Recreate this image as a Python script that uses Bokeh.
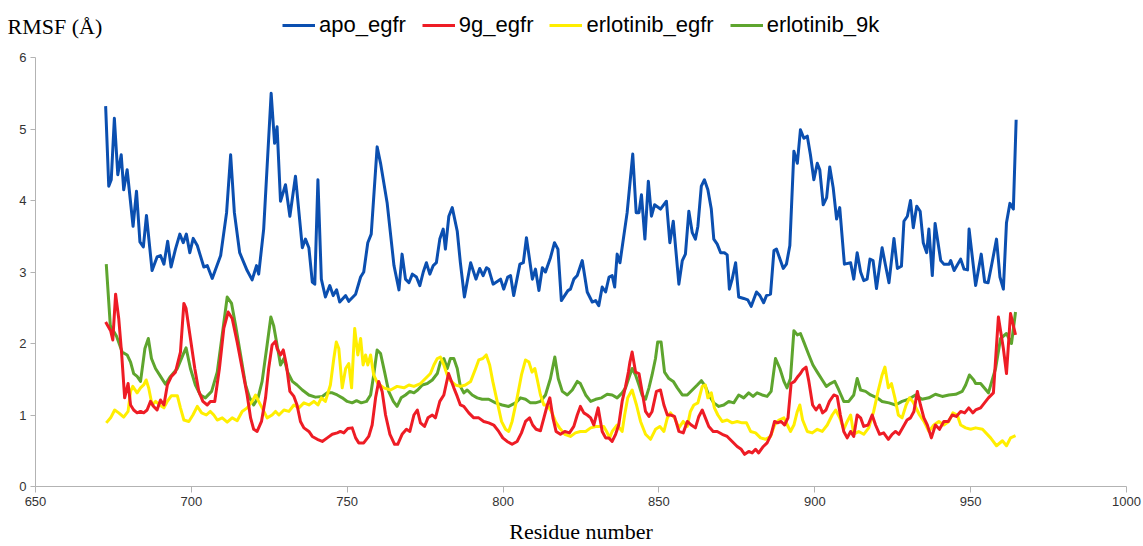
from bokeh.plotting import figure
from bokeh.models import Legend, LegendItem, Label, FixedTicker
from bokeh.layouts import column
from bokeh.embed import file_html
from bokeh.resources import INLINE

# (residue, RMSF in Angstrom)
apo_egfr = [
    (672.5, 5.32), (673.5, 4.2), (674.3, 4.29), (675.3, 5.15), (676.4, 4.36), (677.5, 4.64),
    (678.3, 4.15), (679.4, 4.43), (681.3, 3.64), (682.4, 4.13), (683.5, 3.42), (684.6, 3.35),
    (685.6, 3.79), (687.4, 3.02), (689.0, 3.21), (690.1, 3.23), (691.2, 3.11), (692.4, 3.43),
    (693.5, 3.07), (694.9, 3.32), (696.3, 3.53), (697.4, 3.41), (698.4, 3.53), (699.5, 3.27),
    (700.6, 3.47), (701.9, 3.37), (704.0, 3.07), (705.1, 3.09), (706.7, 2.91), (709.4, 3.23),
    (711.3, 3.83), (712.6, 4.64), (713.8, 3.83), (715.5, 3.27), (717.9, 3.02), (719.5, 2.89),
    (720.9, 3.09), (721.6, 2.97), (723.2, 3.6), (725.6, 5.5), (726.7, 4.8), (727.5, 5.03),
    (728.6, 3.99), (730.2, 4.22), (731.6, 3.78), (733.4, 4.34), (735.6, 3.34), (736.6, 3.46),
    (737.7, 3.34), (738.8, 2.86), (739.6, 2.83), (740.6, 4.29), (741.7, 2.9), (743.0, 2.65),
    (744.4, 2.81), (745.5, 2.67), (746.6, 2.75), (747.6, 2.58), (749.5, 2.67), (750.5, 2.59),
    (752.7, 2.69), (754.3, 2.93), (755.3, 3.0), (756.6, 3.41), (757.7, 3.53), (759.6, 4.75),
    (760.7, 4.52), (762.8, 3.97), (765.0, 3.09), (766.6, 2.75), (767.6, 3.25), (768.7, 2.9),
    (769.8, 2.85), (770.9, 2.97), (772.2, 2.93), (773.3, 2.81), (774.4, 3.0), (775.4, 3.13),
    (776.5, 2.97), (777.6, 3.09), (778.6, 3.13), (779.7, 3.46), (780.8, 3.6), (781.5, 3.32),
    (782.6, 3.78), (783.7, 3.9), (785.3, 3.57), (786.3, 3.13), (787.6, 2.65), (789.6, 3.13),
    (791.3, 2.9), (792.5, 3.05), (793.6, 2.95), (794.7, 3.06), (795.4, 3.04), (796.8, 2.83),
    (799.2, 2.9), (800.2, 2.76), (801.5, 2.93), (802.4, 2.95), (803.4, 2.67), (805.4, 3.11),
    (806.5, 3.13), (807.5, 3.48), (809.4, 2.9), (810.4, 3.04), (811.5, 2.74), (812.6, 3.06),
    (813.6, 3.0), (815.2, 3.2), (816.5, 3.41), (817.6, 3.32), (818.7, 2.6), (820.8, 2.74),
    (821.6, 2.76), (822.7, 2.9), (823.8, 2.95), (825.4, 3.16), (827.0, 2.72), (828.6, 2.58),
    (829.7, 2.6), (830.7, 2.53), (831.8, 2.79), (832.9, 2.72), (834.0, 2.93), (835.0, 2.95),
    (835.8, 2.79), (836.6, 3.25), (837.5, 3.13), (839.8, 3.83), (841.6, 4.65), (842.7, 3.83),
    (843.6, 3.83), (844.4, 4.08), (845.5, 3.46), (846.6, 4.27), (847.6, 3.78), (848.6, 3.94),
    (850.5, 3.88), (852.4, 3.99), (853.5, 3.41), (854.6, 3.71), (856.4, 2.83), (857.5, 3.16),
    (858.5, 3.25), (859.6, 3.85), (860.7, 3.55), (861.7, 3.46), (862.5, 3.64), (863.6, 4.2),
    (864.6, 4.29), (865.7, 4.15), (866.8, 3.88), (867.6, 3.46), (868.7, 3.39), (869.8, 3.27),
    (871.0, 3.27), (871.9, 3.24), (872.6, 2.76), (873.5, 2.9), (874.6, 3.13), (875.6, 2.65),
    (877.2, 2.63), (878.5, 2.61), (879.6, 2.52), (881.3, 2.72), (882.4, 2.67), (883.6, 2.57),
    (884.5, 2.67), (885.8, 2.69), (886.9, 3.3), (887.7, 3.32), (889.9, 3.05), (890.9, 3.11),
    (892.0, 3.37), (893.3, 4.69), (894.4, 4.52), (895.4, 4.99), (896.5, 4.87), (897.6, 4.9),
    (898.6, 4.64), (899.7, 4.29), (900.8, 4.52), (901.6, 4.43), (902.7, 3.94), (903.8, 4.04),
    (904.8, 4.47), (905.9, 4.18), (907.0, 3.74), (908.0, 3.9), (909.5, 3.11), (911.5, 3.13),
    (912.5, 2.9), (913.6, 3.27), (914.7, 3.0), (915.7, 2.88), (916.8, 2.9), (917.7, 3.18),
    (918.7, 3.16), (919.8, 2.77), (921.6, 3.34), (922.7, 3.09), (923.8, 2.85), (925.4, 3.47),
    (926.5, 3.05), (927.8, 3.08), (928.6, 3.71), (929.7, 3.78), (930.7, 4.0), (931.6, 3.62),
    (932.7, 3.92), (933.8, 3.85), (934.8, 3.41), (935.9, 3.27), (936.6, 3.6), (937.7, 2.95),
    (938.6, 3.68), (940.4, 3.16), (941.4, 3.11), (943.1, 3.11), (943.6, 3.16), (944.7, 3.02),
    (946.8, 3.18), (947.9, 3.04), (949.0, 3.03), (949.5, 3.6), (951.6, 2.81), (953.4, 3.25),
    (954.5, 2.86), (955.6, 2.85), (956.7, 3.09), (958.3, 3.46), (959.4, 2.93), (960.5, 2.76),
    (961.5, 3.69), (962.6, 3.96), (963.7, 3.88), (964.6, 5.13),
]

g9_egfr = [
    (672.5, 2.3), (674.1, 2.18), (674.8, 2.05), (675.7, 2.69), (676.7, 2.35), (677.6, 1.88),
    (678.6, 1.24), (679.7, 1.44), (680.5, 1.14), (681.5, 1.07), (682.6, 1.03), (683.7, 1.05),
    (684.7, 1.03), (685.8, 1.07), (686.9, 1.19), (687.9, 1.12), (689.0, 1.07), (690.1, 1.21),
    (691.2, 1.14), (692.3, 1.42), (693.6, 1.54), (694.9, 1.6), (696.5, 1.88), (697.6, 2.56),
    (698.3, 2.49), (699.7, 2.07), (701.1, 1.65), (702.4, 1.33), (703.7, 1.19), (705.1, 1.14),
    (706.1, 1.19), (707.5, 1.19), (709.0, 1.65), (710.4, 2.21), (711.8, 2.44), (713.1, 2.35),
    (714.7, 2.02), (716.3, 1.65), (717.9, 1.28), (719.0, 0.96), (720.0, 0.8), (721.1, 0.77),
    (722.5, 0.91), (723.8, 1.24), (724.8, 1.65), (725.9, 1.98), (727.0, 2.03), (727.5, 1.93),
    (728.6, 1.84), (729.5, 1.91), (730.5, 1.7), (731.6, 1.33), (732.9, 1.26), (733.9, 1.14),
    (735.0, 0.91), (736.1, 0.82), (737.7, 0.77), (738.8, 0.7), (740.4, 0.66), (742.0, 0.63),
    (743.6, 0.68), (745.2, 0.73), (746.8, 0.75), (747.8, 0.77), (748.9, 0.75), (750.2, 0.81),
    (751.6, 0.82), (752.7, 0.68), (753.7, 0.61), (755.3, 0.61), (756.9, 0.7), (758.0, 0.86),
    (759.1, 1.24), (760.1, 1.47), (761.2, 1.33), (762.3, 1.0), (763.7, 0.73), (765.2, 0.59),
    (766.2, 0.59), (767.6, 0.73), (769.0, 0.8), (770.1, 0.77), (771.4, 1.0), (772.5, 1.07),
    (773.5, 0.89), (774.8, 0.84), (775.9, 0.96), (777.3, 1.0), (778.3, 0.96), (779.7, 1.19),
    (781.0, 1.28), (782.5, 1.58), (784.2, 1.38), (785.3, 1.26), (786.3, 1.14), (787.4, 1.12),
    (789.0, 1.03), (790.6, 0.96), (792.2, 0.96), (793.8, 0.91), (795.4, 0.89), (797.0, 0.86),
    (798.6, 0.77), (799.9, 0.68), (801.3, 0.63), (802.9, 0.59), (804.5, 0.63), (805.9, 0.75),
    (807.2, 0.91), (808.5, 0.96), (809.5, 0.86), (810.6, 0.8), (812.0, 0.78), (813.1, 0.96),
    (814.2, 1.14), (815.0, 1.24), (816.0, 0.96), (817.0, 0.77), (818.4, 0.73), (819.8, 0.77),
    (821.3, 0.75), (822.7, 0.84), (823.8, 1.0), (824.8, 1.12), (825.9, 1.03), (827.0, 1.0),
    (828.1, 0.96), (829.1, 0.86), (830.5, 1.1), (831.8, 0.77), (832.9, 0.68), (833.9, 0.68),
    (835.0, 0.63), (836.1, 0.73), (837.1, 0.86), (838.2, 1.19), (839.3, 1.4), (840.2, 1.6),
    (840.7, 1.74), (841.4, 1.88), (842.5, 1.6), (843.6, 1.58), (844.6, 1.33), (845.7, 1.05),
    (846.8, 0.98), (847.8, 1.05), (849.2, 1.33), (850.5, 1.35), (851.6, 1.14), (852.7, 1.0),
    (853.7, 1.0), (855.0, 0.98), (856.4, 0.77), (857.8, 0.75), (859.1, 0.91), (860.4, 0.86),
    (861.7, 0.82), (862.8, 0.98), (863.9, 1.07), (864.9, 0.96), (866.0, 0.84), (867.4, 0.77),
    (868.7, 0.77), (870.3, 0.73), (871.9, 0.7), (873.5, 0.63), (875.1, 0.56), (876.4, 0.52),
    (877.5, 0.45), (878.8, 0.49), (879.9, 0.47), (881.0, 0.52), (882.0, 0.47), (883.5, 0.56),
    (884.7, 0.61), (886.0, 0.73), (887.1, 0.91), (888.1, 0.89), (889.2, 0.91), (890.3, 0.86),
    (891.4, 0.96), (892.4, 1.44), (893.5, 1.47), (894.6, 1.54), (895.4, 1.58), (896.1, 1.63),
    (897.2, 1.67), (898.1, 1.47), (899.3, 1.14), (900.4, 1.07), (901.5, 1.14), (902.5, 1.03),
    (903.6, 1.07), (904.7, 1.19), (906.1, 1.28), (907.2, 1.26), (908.2, 1.0), (909.3, 0.77),
    (910.4, 0.68), (911.5, 0.77), (912.5, 0.7), (913.6, 1.0), (914.7, 0.96), (915.7, 0.84),
    (917.1, 0.86), (918.4, 1.0), (919.5, 0.86), (920.8, 0.73), (922.1, 0.75), (923.6, 0.66),
    (924.8, 0.73), (925.9, 0.77), (927.0, 0.73), (928.2, 0.82), (929.6, 0.93), (930.7, 0.96),
    (931.8, 1.05), (932.9, 1.33), (933.9, 1.14), (935.0, 0.96), (936.1, 0.86), (937.4, 0.68),
    (938.7, 0.86), (940.0, 0.8), (941.4, 0.91), (942.8, 0.91), (944.1, 1.0), (945.4, 0.98),
    (946.8, 1.05), (948.1, 1.03), (949.4, 1.1), (950.7, 1.03), (951.6, 1.07), (953.2, 1.1),
    (955.7, 1.24), (957.3, 1.31), (958.9, 2.37), (960.5, 1.93), (961.5, 1.58), (962.8, 2.42),
    (964.4, 2.12),
]

erlotinib_egfr = [
    (672.7, 0.89), (674.1, 0.96), (675.4, 1.07), (676.7, 1.03), (678.3, 0.97), (679.7, 1.05),
    (680.5, 1.33), (681.2, 1.4), (682.6, 1.31), (683.7, 1.38), (684.7, 1.42), (685.5, 1.49),
    (686.3, 1.38), (687.4, 1.14), (688.5, 1.19), (689.8, 1.14), (691.2, 1.1), (692.3, 1.19),
    (693.6, 1.27), (695.5, 1.27), (696.5, 1.1), (697.6, 0.93), (699.2, 0.91), (700.5, 1.0),
    (701.9, 1.12), (703.3, 1.03), (704.8, 1.0), (706.1, 1.05), (707.2, 1.0), (708.3, 0.93),
    (709.9, 0.96), (711.5, 0.9), (713.1, 0.96), (714.7, 0.92), (716.3, 1.05), (717.9, 1.1),
    (719.5, 1.19), (720.6, 1.28), (721.6, 1.19), (722.7, 1.1), (724.3, 0.96), (725.9, 1.0),
    (727.0, 1.05), (728.1, 1.0), (729.7, 1.07), (731.3, 1.05), (732.9, 1.14), (734.5, 1.1),
    (736.1, 1.17), (737.7, 1.14), (739.3, 1.19), (740.6, 1.14), (741.7, 1.24), (743.0, 1.19),
    (744.6, 1.42), (745.7, 1.79), (746.5, 2.02), (747.3, 1.93), (748.4, 1.38), (749.5, 1.65),
    (750.5, 1.72), (751.4, 1.38), (752.4, 2.21), (753.4, 1.84), (754.3, 2.07), (755.1, 1.7),
    (755.9, 1.84), (756.6, 1.7), (757.5, 1.84), (758.5, 1.56), (759.8, 1.44), (761.7, 1.38),
    (763.9, 1.35), (766.0, 1.4), (768.2, 1.38), (769.8, 1.42), (771.4, 1.4), (773.5, 1.44),
    (775.1, 1.51), (776.7, 1.58), (777.8, 1.7), (778.9, 1.79), (779.9, 1.81), (781.0, 1.7),
    (782.1, 1.56), (783.1, 1.48), (784.7, 1.42), (786.3, 1.4), (787.9, 1.42), (789.6, 1.47),
    (791.2, 1.65), (792.2, 1.77), (793.5, 1.79), (794.6, 1.84), (795.7, 1.7), (796.7, 1.47),
    (798.1, 1.19), (799.5, 0.91), (800.8, 0.8), (801.8, 0.77), (802.9, 0.91), (804.5, 1.24),
    (805.9, 1.56), (807.2, 1.77), (808.3, 1.74), (809.3, 1.6), (810.2, 1.65), (810.9, 1.51),
    (812.0, 1.28), (813.1, 1.14), (814.2, 1.14), (815.5, 1.05), (816.8, 0.91), (818.1, 0.82),
    (819.8, 0.73), (821.6, 0.7), (823.2, 0.75), (824.8, 0.77), (826.5, 0.77), (828.1, 0.82),
    (829.7, 0.84), (831.3, 0.84), (832.3, 0.84), (833.2, 0.77), (834.2, 0.68), (835.0, 0.77),
    (836.6, 0.86), (838.2, 0.77), (839.0, 1.0), (840.0, 1.24), (841.4, 1.35), (842.8, 1.14),
    (844.1, 0.91), (845.7, 0.73), (847.3, 0.66), (848.9, 0.8), (850.3, 0.84), (851.6, 0.77),
    (852.7, 0.96), (853.7, 1.03), (855.0, 0.96), (856.4, 0.82), (857.8, 0.91), (859.1, 0.84),
    (860.1, 1.05), (861.2, 1.14), (862.5, 1.17), (863.9, 1.4), (864.9, 1.42), (865.7, 1.24),
    (866.8, 1.31), (867.8, 1.1), (868.9, 1.0), (870.3, 0.91), (871.9, 0.93), (873.5, 0.89),
    (875.1, 0.91), (876.7, 0.89), (878.1, 0.89), (879.4, 0.77), (881.0, 0.75), (882.6, 0.68),
    (884.2, 0.66), (885.8, 0.7), (887.1, 0.86), (888.5, 0.93), (890.1, 0.96), (891.2, 0.86),
    (892.2, 0.77), (893.3, 0.86), (894.4, 1.05), (895.2, 1.14), (896.1, 0.93), (897.6, 0.77),
    (899.2, 0.75), (900.8, 0.8), (902.4, 0.77), (904.0, 0.86), (905.6, 1.0), (906.7, 1.07),
    (908.0, 0.96), (909.3, 0.8), (910.4, 0.91), (911.5, 1.0), (912.5, 0.73), (914.1, 0.77),
    (915.7, 0.73), (917.3, 0.82), (918.9, 1.05), (920.3, 1.33), (921.6, 1.56), (922.5, 1.67),
    (923.6, 1.38), (924.6, 1.44), (925.7, 1.24), (926.8, 1.0), (928.0, 0.96), (929.3, 1.14),
    (930.4, 1.24), (931.4, 1.19), (932.5, 1.1), (933.6, 1.0), (935.0, 0.91), (936.6, 0.77),
    (938.2, 0.86), (939.8, 0.91), (941.4, 0.86), (943.0, 0.91), (944.3, 1.03), (945.7, 1.0),
    (946.8, 0.86), (948.4, 0.82), (950.0, 0.8), (951.6, 0.82), (953.8, 0.8), (956.4, 0.68),
    (958.3, 0.57), (960.2, 0.64), (961.5, 0.57), (962.8, 0.68), (964.4, 0.71),
]

erlotinib_9k = [
    (672.7, 3.11), (674.0, 2.25), (676.0, 2.1), (677.8, 1.88), (679.4, 1.84), (680.5, 1.74),
    (681.5, 1.58), (682.6, 1.54), (683.7, 1.47), (685.1, 1.93), (686.2, 2.07), (687.2, 1.79),
    (688.5, 1.65), (690.1, 1.54), (691.7, 1.43), (693.3, 1.54), (695.5, 1.65), (697.3, 1.84),
    (698.3, 1.94), (699.7, 1.65), (701.3, 1.42), (702.9, 1.28), (704.5, 1.24), (706.5, 1.33),
    (708.3, 1.6), (709.9, 2.12), (711.5, 2.65), (712.9, 2.56), (714.2, 2.25), (715.8, 1.84),
    (717.4, 1.42), (718.7, 1.24), (720.0, 1.14), (721.4, 1.24), (722.7, 1.47), (724.3, 1.98),
    (725.5, 2.37), (726.4, 2.25), (727.5, 1.98), (728.6, 1.7), (729.7, 1.79), (730.9, 1.6),
    (732.4, 1.47), (733.9, 1.42), (735.6, 1.35), (737.7, 1.28), (739.8, 1.25), (742.0, 1.26),
    (743.6, 1.31), (745.2, 1.31), (746.8, 1.28), (748.4, 1.24), (750.0, 1.19), (751.6, 1.17),
    (753.0, 1.2), (754.5, 1.17), (756.2, 1.19), (757.5, 1.28), (758.5, 1.56), (759.6, 1.91),
    (760.7, 1.86), (762.0, 1.6), (763.3, 1.33), (764.8, 1.19), (766.0, 1.12), (767.3, 1.24),
    (768.7, 1.28), (770.1, 1.33), (771.4, 1.31), (772.6, 1.35), (774.1, 1.42), (775.7, 1.44),
    (777.3, 1.49), (778.9, 1.58), (779.9, 1.74), (781.0, 1.79), (782.1, 1.65), (783.1, 1.79),
    (784.2, 1.79), (785.3, 1.65), (786.3, 1.4), (787.4, 1.31), (788.5, 1.35), (790.1, 1.28),
    (791.7, 1.24), (793.3, 1.22), (795.4, 1.22), (797.6, 1.17), (799.7, 1.14), (801.8, 1.12),
    (804.0, 1.17), (805.6, 1.24), (807.2, 1.22), (808.8, 1.17), (810.4, 1.17), (812.0, 1.19),
    (813.6, 1.28), (815.2, 1.51), (816.6, 1.81), (817.7, 1.51), (819.0, 1.33), (820.6, 1.28),
    (822.2, 1.35), (823.8, 1.47), (824.8, 1.44), (826.5, 1.28), (828.1, 1.19), (829.7, 1.22),
    (831.6, 1.24), (833.4, 1.29), (835.0, 1.28), (836.6, 1.24), (838.2, 1.31), (839.3, 1.38),
    (840.3, 1.51), (841.4, 1.65), (842.5, 1.56), (843.6, 1.42), (844.6, 1.28), (845.7, 1.22),
    (846.8, 1.38), (847.8, 1.56), (848.9, 1.79), (849.6, 2.02), (850.7, 2.02), (851.8, 1.6),
    (853.2, 1.51), (854.6, 1.47), (855.9, 1.38), (857.5, 1.28), (859.1, 1.28), (860.7, 1.35),
    (862.3, 1.42), (863.6, 1.48), (864.9, 1.4), (866.0, 1.28), (867.6, 1.17), (869.2, 1.12),
    (870.8, 1.14), (872.4, 1.19), (874.0, 1.17), (875.6, 1.28), (877.2, 1.24), (878.8, 1.31),
    (880.2, 1.26), (881.5, 1.31), (883.1, 1.28), (884.7, 1.26), (886.0, 1.33), (887.4, 1.79),
    (888.8, 1.65), (890.1, 1.47), (891.1, 1.38), (892.2, 1.51), (893.3, 2.18), (894.4, 2.12),
    (895.4, 2.14), (896.5, 2.02), (898.1, 1.84), (899.4, 1.7), (900.8, 1.6), (902.4, 1.49),
    (903.7, 1.4), (905.0, 1.44), (906.4, 1.47), (907.7, 1.35), (909.3, 1.19), (910.9, 1.19),
    (912.5, 1.28), (913.6, 1.51), (914.7, 1.35), (916.3, 1.33), (917.9, 1.28), (920.0, 1.24),
    (921.6, 1.19), (923.8, 1.17), (925.9, 1.14), (928.0, 1.19), (930.1, 1.22), (932.3, 1.28),
    (934.4, 1.22), (936.6, 1.24), (938.7, 1.29), (940.9, 1.26), (943.0, 1.28), (945.2, 1.29),
    (947.3, 1.33), (948.4, 1.42), (949.6, 1.56), (951.0, 1.49), (951.6, 1.44), (953.2, 1.44),
    (955.7, 1.31), (958.0, 1.65), (959.6, 2.07), (961.5, 2.14), (963.1, 2.0), (964.4, 2.44),
]

series_names = ["apo_egfr", "9g_egfr", "erlotinib_egfr", "erlotinib_9k"]
series_colors = ["#0b4fb0", "#ee1c25", "#ffee00", "#5ea52e"]
x_ticks = [650, 700, 750, 800, 850, 900, 950, 1000]
y_ticks = [0, 1, 2, 3, 4, 5, 6]

data = {"apo_egfr": apo_egfr, "9g_egfr": g9_egfr,
        "erlotinib_egfr": erlotinib_egfr, "erlotinib_9k": erlotinib_9k}

def xy(name):
    return [a for a, b in data[name]], [b for a, b in data[name]]

# ---- header strip: y-axis title and legend (kept inside its own frame) ----
head = figure(width=1143, height=50, x_range=(0, 1143), y_range=(0, 50),
              output_backend="svg", toolbar_location=None,
              x_axis_type=None, y_axis_type=None, min_border=0)
head.frame_align = False
head.outline_line_color = None
head.grid.visible = False
head.background_fill_color = "white"
head.border_fill_color = "white"

proxies = {}
for name, col in zip(series_names, series_colors):
    xs, ys = xy(name)
    r = head.line(xs, ys, line_color=col, line_width=3)
    r.visible = False
    proxies[name] = r

legend = Legend(items=[LegendItem(label=n, renderers=[proxies[n]]) for n in series_names],
                orientation="horizontal", location=(282, 12),
                glyph_width=33, glyph_height=20, label_standoff=4, spacing=16,
                padding=0, margin=0, border_line_alpha=0, background_fill_alpha=0,
                inactive_fill_alpha=0,
                label_text_font="Liberation Sans", label_text_font_size="22px",
                label_text_color="black", label_height=24)
head.add_layout(legend)

head.add_layout(Label(x=7, y=24, text="RMSF (Å)",
                      text_font="Liberation Serif", text_font_size="22px",
                      text_baseline="middle", text_align="left", text_color="black"))

# ---- main chart ----
p = figure(width=1143, height=496, x_range=(650, 1000), y_range=(0, 6),
           output_backend="svg", toolbar_location=None,
           min_border_left=35, min_border_right=17, min_border_top=7, min_border_bottom=57)
p.frame_align = False
p.outline_line_color = None
p.xgrid.visible = False
p.ygrid.visible = False
p.background_fill_color = "white"
p.border_fill_color = "white"

for name in ["apo_egfr", "erlotinib_9k", "erlotinib_egfr", "9g_egfr"]:
    xs, ys = xy(name)
    col = series_colors[series_names.index(name)]
    p.line(xs, ys, line_color=col, line_width=3, line_join="round")

for ax in (p.xaxis[0], p.yaxis[0]):
    ax.axis_line_color = "#b3b3b3"
    ax.major_tick_line_color = "#b3b3b3"
    ax.minor_tick_line_color = None
    ax.major_tick_in = 0
    ax.major_label_text_font = "Liberation Sans"
    ax.major_label_text_font_size = "13px"
    ax.major_label_text_color = "#333333"

p.xaxis[0].ticker = FixedTicker(ticks=x_ticks)
p.yaxis[0].ticker = FixedTicker(ticks=y_ticks)
p.xaxis[0].major_tick_out = 6
p.yaxis[0].major_tick_out = 5
p.xaxis[0].major_label_standoff = 4
p.yaxis[0].major_label_standoff = 4
p.xaxis[0].axis_label = "Residue number"
p.xaxis[0].axis_label_text_font = "Liberation Serif"
p.xaxis[0].axis_label_text_font_size = "22px"
p.xaxis[0].axis_label_text_font_style = "normal"
p.xaxis[0].axis_label_text_color = "black"
p.xaxis[0].axis_label_standoff = 10

layout = column(head, p, spacing=0)
open("out.html", "w").write(file_html(layout, INLINE))
